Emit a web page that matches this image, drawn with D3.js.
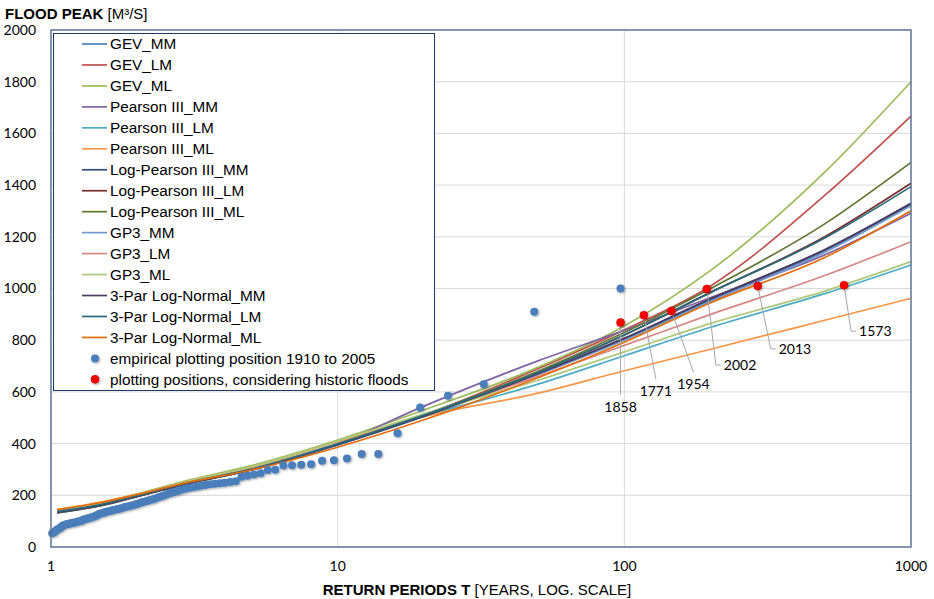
<!DOCTYPE html>
<html>
<head>
<meta charset="utf-8">
<script src="https://cdn.jsdelivr.net/npm/d3@7/dist/d3.min.js"></script>
<style>
  body { margin: 0; background: #fff; }
  svg { display: block; }
</style>
</head>
<body>
<svg id="chart" width="934" height="599"></svg>
<script>
// return periods where the fitted distributions are drawn
const curveT = [1.05, 1.5, 2, 3, 5, 10, 20, 50, 100, 200, 500, 1000];

const seriesNames = [
  "GEV_MM", "GEV_LM", "GEV_ML",
  "Pearson III_MM", "Pearson III_LM", "Pearson III_ML",
  "Log-Pearson III_MM", "Log-Pearson III_LM", "Log-Pearson III_ML",
  "GP3_MM", "GP3_LM", "GP3_ML",
  "3-Par Log-Normal_MM", "3-Par Log-Normal_LM", "3-Par Log-Normal_ML"
];

// flood peaks [m3/s] of each fit at curveT
const gevMM   = [135, 165, 198, 248, 300, 395, 510, 670, 805, 955, 1145, 1330];
const gevLM   = [140, 167, 198, 247, 300, 398, 510, 690, 840, 1010, 1360, 1667];
const gevML   = [133, 170, 205, 258, 315, 414, 530, 695, 855, 1070, 1450, 1800];
const p3MM    = [138, 165, 196, 245, 298, 400, 545, 720, 838, 965, 1130, 1291];
const p3LM    = [140, 168, 200, 250, 302, 400, 505, 630, 740, 850, 980, 1091];
const p3ML    = [145, 175, 205, 255, 308, 408, 505, 595, 682, 765, 877, 962];
const lp3MM   = [132, 160, 195, 245, 298, 395, 505, 668, 805, 960, 1150, 1325];
const lp3LM   = [135, 163, 197, 247, 300, 398, 510, 675, 820, 985, 1200, 1407];
const lp3ML   = [133, 162, 196, 246, 299, 398, 512, 680, 830, 1000, 1250, 1488];
const gp3MM   = [136, 164, 198, 248, 301, 398, 510, 668, 800, 950, 1140, 1320];
const gp3LM   = [138, 166, 200, 250, 303, 400, 510, 660, 780, 900, 1050, 1181];
const gp3ML   = [136, 168, 203, 255, 310, 410, 515, 645, 755, 865, 990, 1104];
const ln3MM   = [134, 162, 196, 246, 299, 397, 508, 670, 808, 960, 1150, 1330];
const ln3LM   = [137, 165, 199, 249, 301, 399, 510, 675, 820, 985, 1195, 1394];
const ln3ML   = [145, 172, 203, 250, 298, 386, 492, 655, 792, 945, 1120, 1301];

const seriesValues = [gevMM, gevLM, gevML, p3MM, p3LM, p3ML, lp3MM, lp3LM, lp3ML,
  gp3MM, gp3LM, gp3ML, ln3MM, ln3LM, ln3ML];

const seriesColors = [
  "#4f81bd", "#c0504d", "#9bbb59",
  "#8064a2", "#4bacc6", "#f79646",
  "#2c4d75", "#772c2a", "#5f7530",
  "#729aca", "#d68784", "#afc97a",
  "#4d3b62", "#276a7c", "#e46c0a"
];

// empirical plotting positions 1910-2005 (return period, peak)
const empT = [97.00, 48.50, 32.33, 24.25, 19.40, 16.17, 13.86, 12.13, 10.78, 9.70,
  8.82, 8.08, 7.46, 6.93, 6.47, 6.06, 5.71, 5.39, 5.11, 4.85,
  4.62, 4.41, 4.22, 4.04, 3.88, 3.73, 3.59, 3.46, 3.34, 3.23,
  3.13, 3.03, 2.94, 2.85, 2.77, 2.69, 2.62, 2.55, 2.49, 2.43,
  2.37, 2.31, 2.26, 2.20, 2.16, 2.11, 2.06, 2.02, 1.98, 1.94,
  1.90, 1.87, 1.83, 1.80, 1.76, 1.73, 1.70, 1.67, 1.64, 1.62,
  1.59, 1.56, 1.54, 1.52, 1.49, 1.47, 1.45, 1.43, 1.41, 1.39,
  1.37, 1.35, 1.33, 1.31, 1.29, 1.28, 1.26, 1.24, 1.23, 1.21,
  1.20, 1.18, 1.17, 1.15, 1.14, 1.13, 1.11, 1.10, 1.09, 1.08,
  1.07, 1.05, 1.04, 1.03, 1.02, 1.01];
const empQ = [1000, 910, 630, 585, 540, 440, 360, 360, 342, 336,
  334, 320, 318, 316, 315, 299, 298, 285, 280, 276,
  272, 254, 251, 249, 247, 245, 243, 240, 237, 234,
  231, 228, 225, 221, 217, 213, 209, 205, 200, 196,
  192, 188, 184, 181, 178, 175, 172, 168, 165, 162,
  160, 158, 156, 154, 150, 148, 146, 144, 142, 140,
  138, 136, 134, 132, 130, 128, 124, 120, 118, 115,
  113, 111, 109, 107, 104, 102, 100, 99, 97, 95,
  94, 93, 91, 90, 89, 87, 85, 82, 79, 75,
  72, 68, 63, 59, 56, 53];

// plotting positions considering historic floods
const histYear = ["1858", "1771", "1954", "2002", "2013", "1573"];
const histT = [97, 117, 146, 194, 292, 584];
const histQ = [868, 897, 913, 998, 1010, 1013];

const yTicks = [0, 200, 400, 600, 800, 1000, 1200, 1400, 1600, 1800, 2000];
const xTicks = [1, 10, 100, 1000];

// label leaders: [end dx, end dy, elbow length] relative to the point
const leaderShape = [[0, 72, 0], [12, 64, 0], [22, 61, 0], [9, 76, 5], [13, 63, 5], [7, 46, 5]];

const svg = d3.select("#chart");
const pLeft = 51, pRight = 911, pTop = 30, pBottom = 547;

const x = d3.scaleLog().domain([1, 1000]).range([pLeft, pRight]);
const y = d3.scaleLinear().domain([0, 2000]).range([pBottom, pTop]);

const numFont = "Lato, 'Open Sans', sans-serif";
const txtFont = "'Liberation Sans', Arial, sans-serif";

// soft marker shadow like the spreadsheet export
const defs = svg.append("defs");
defs.append("filter").attr("id", "shade")
  .attr("x", "-50%").attr("y", "-50%").attr("width", "200%").attr("height", "200%")
  .append("feDropShadow")
  .attr("dx", 1).attr("dy", 1).attr("stdDeviation", 0.8)
  .attr("flood-color", "#000").attr("flood-opacity", 0.35);

// gridlines
svg.append("g").selectAll("line").data(yTicks.slice(1, -1)).join("line")
  .attr("x1", pLeft).attr("x2", pRight)
  .attr("y1", d => y(d)).attr("y2", d => y(d))
  .attr("stroke", "#d9d9d9").attr("stroke-width", 1);
svg.append("g").selectAll("line").data([10, 100]).join("line")
  .attr("x1", d => x(d)).attr("x2", d => x(d))
  .attr("y1", pTop).attr("y2", pBottom)
  .attr("stroke", "#d9d9d9").attr("stroke-width", 1);

// fitted curves
const line = d3.line()
  .x(d => x(d[0]))
  .y(d => y(d[1]))
  .curve(d3.curveMonotoneX);

svg.append("g").selectAll("path").data(seriesValues).join("path")
  .attr("d", vals => line(vals.map((v, i) => [curveT[i], v])))
  .attr("fill", "none")
  .attr("stroke", (d, i) => seriesColors[i])
  .attr("stroke-width", 1.7);

// empirical points
svg.append("g").attr("filter", "url(#shade)")
  .selectAll("circle").data(empQ).join("circle")
  .attr("cx", (d, i) => x(empT[i]))
  .attr("cy", d => y(d))
  .attr("r", 4)
  .attr("fill", "#4a7ebb");

// leader lines and labels for historic floods
const lead = svg.append("g");
histT.forEach((t, i) => {
  const px = x(t), py = y(histQ[i]);
  const [dx, dy, el] = leaderShape[i];
  let pts = [[px, py], [px + dx, py + dy]];
  if (el > 0) pts.push([px + dx + el, py + dy]);
  lead.append("path")
    .attr("d", d3.line()(pts))
    .attr("fill", "none")
    .attr("stroke", "#a6a6a6")
    .attr("stroke-width", 1);
  const lbl = lead.append("text")
    .attr("font-family", numFont)
    .attr("font-size", 14)
    .attr("fill", "#000")
    .text(histYear[i]);
  if (el > 0) {
    lbl.attr("x", px + dx + el + 3).attr("y", py + dy).attr("dy", "0.35em");
  } else {
    lbl.attr("x", px + dx).attr("y", py + dy + 12).attr("dy", "0.35em").attr("text-anchor", "middle");
  }
});

svg.append("g").attr("filter", "url(#shade)")
  .selectAll("circle").data(histQ).join("circle")
  .attr("cx", (d, i) => x(histT[i]))
  .attr("cy", d => y(d))
  .attr("r", 4)
  .attr("fill", "#ff0000")
  .attr("stroke", "#c00000")
  .attr("stroke-width", 0.6);

// plot frame
svg.append("rect")
  .attr("x", pLeft).attr("y", pTop)
  .attr("width", pRight - pLeft).attr("height", pBottom - pTop)
  .attr("fill", "none").attr("stroke", "#5b7395").attr("stroke-width", 1.5);

// tick labels
svg.append("g").selectAll("text").data(yTicks).join("text")
  .attr("x", 36).attr("y", d => y(d)).attr("dy", "0.35em")
  .attr("text-anchor", "end")
  .attr("font-family", numFont).attr("font-size", 14)
  .text(d => d);
svg.append("g").selectAll("text").data(xTicks).join("text")
  .attr("x", d => x(d)).attr("y", 566).attr("dy", "0.35em")
  .attr("text-anchor", "middle")
  .attr("font-family", numFont).attr("font-size", 14)
  .text(d => d);

// axis titles
const yTitle = svg.append("text").attr("x", 5).attr("y", 19)
  .attr("font-family", txtFont).attr("font-size", 15);
yTitle.append("tspan").attr("font-weight", "bold").text("FLOOD PEAK ");
yTitle.append("tspan").text("[M³/S]");

const xTitle = svg.append("text").attr("x", 477).attr("y", 595)
  .attr("text-anchor", "middle")
  .attr("font-family", txtFont).attr("font-size", 15);
xTitle.append("tspan").attr("font-weight", "bold").text("RETURN PERIODS T ");
xTitle.append("tspan").text("[YEARS, LOG. SCALE]");

// legend
const lg = svg.append("g");
lg.append("rect")
  .attr("x", 53.5).attr("y", 33.5).attr("width", 381).attr("height", 357)
  .attr("fill", "#fff").attr("stroke", "#1f3864").attr("stroke-width", 1);

const rowY = i => 44 + i * 20.96;
seriesNames.forEach((name, i) => {
  lg.append("line")
    .attr("x1", 82).attr("x2", 107)
    .attr("y1", rowY(i)).attr("y2", rowY(i))
    .attr("stroke", seriesColors[i]).attr("stroke-width", 1.7);
  lg.append("text")
    .attr("x", 110).attr("y", rowY(i)).attr("dy", "0.35em")
    .attr("font-family", txtFont).attr("font-size", 15.3)
    .text(name);
});
const markerRows = [
  ["empirical plotting position 1910 to 2005", "#4a7ebb", "none"],
  ["plotting positions, considering historic floods", "#ff0000", "#c00000"]
];
markerRows.forEach((r, k) => {
  const i = seriesNames.length + k;
  lg.append("circle").attr("cx", 95).attr("cy", rowY(i)).attr("r", 4)
    .attr("fill", r[1]).attr("stroke", r[2]).attr("stroke-width", 0.6)
    .attr("filter", "url(#shade)");
  lg.append("text")
    .attr("x", 110).attr("y", rowY(i)).attr("dy", "0.35em")
    .attr("font-family", txtFont).attr("font-size", 15.3)
    .text(r[0]);
});
</script>
</body>
</html>
